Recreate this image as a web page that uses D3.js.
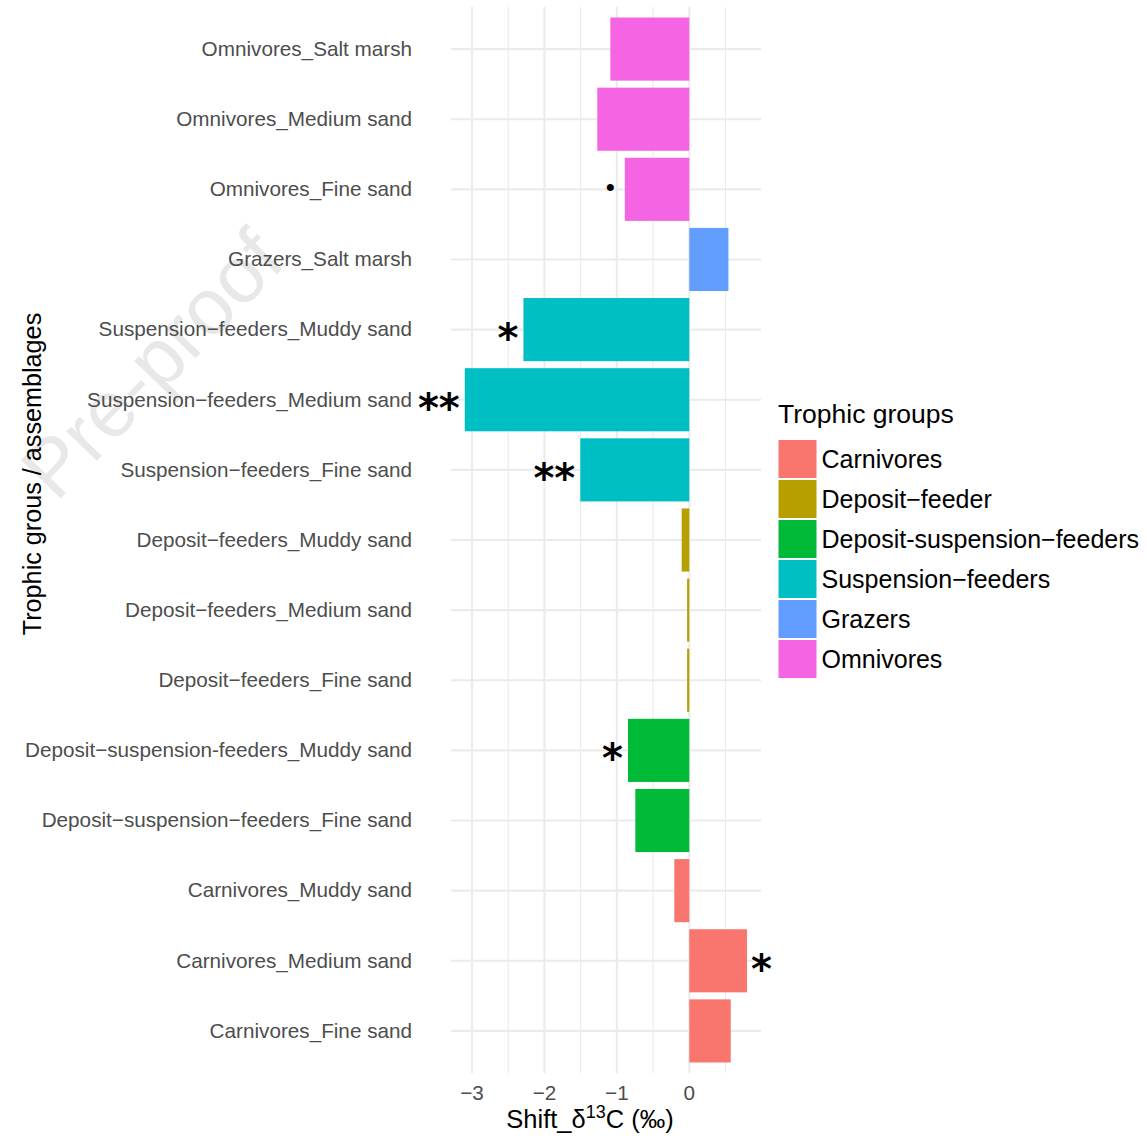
<!DOCTYPE html>
<html>
<head>
<meta charset="utf-8">
<script src="https://cdn.jsdelivr.net/npm/d3@7"></script>
<style>
  html, body { margin: 0; padding: 0; background: #fff; }
  svg { display: block; font-family: "Liberation Sans", Arial, sans-serif; }
</style>
</head>
<body>
<svg id="chart" width="1147" height="1140"></svg>
<script>
// ---- data ----
const categories = [
  "Omnivores_Salt marsh",
  "Omnivores_Medium sand",
  "Omnivores_Fine sand",
  "Grazers_Salt marsh",
  "Suspension\u2212feeders_Muddy sand",
  "Suspension\u2212feeders_Medium sand",
  "Suspension\u2212feeders_Fine sand",
  "Deposit\u2212feeders_Muddy sand",
  "Deposit\u2212feeders_Medium sand",
  "Deposit\u2212feeders_Fine sand",
  "Deposit\u2212suspension-feeders_Muddy sand",
  "Deposit\u2212suspension\u2212feeders_Fine sand",
  "Carnivores_Muddy sand",
  "Carnivores_Medium sand",
  "Carnivores_Fine sand"
];
const shiftValues = [-1.09, -1.27, -0.89, 0.54, -2.29, -3.10, -1.505, -0.105, -0.03, -0.03, -0.846, -0.745, -0.207, 0.797, 0.572];
const groupOfBar = ["Omnivores","Omnivores","Omnivores","Grazers","Suspension\u2212feeders","Suspension\u2212feeders","Suspension\u2212feeders","Deposit\u2212feeder","Deposit\u2212feeder","Deposit\u2212feeder","Deposit-suspension\u2212feeders","Deposit-suspension\u2212feeders","Carnivores","Carnivores","Carnivores"];
const significance = ["", "", "\u2022", "", "*", "**", "**", "", "", "", "*", "", "", "*", ""];
const legendGroups = ["Carnivores", "Deposit\u2212feeder", "Deposit-suspension\u2212feeders", "Suspension\u2212feeders", "Grazers", "Omnivores"];
const groupColors = ["#F8766D", "#B79F00", "#00BA38", "#00BFC4", "#619CFF", "#F564E3"];
const xMajorTicks = [-3, -2, -1, 0];
const xMinorTicks = [-2.5, -1.5, -0.5, 0.5];
const xTickLabels = ["\u22123", "\u22122", "\u22121", "0"];

// ---- layout ----
const svg = d3.select("#chart");
const panel = { left: 451, right: 761, top: 7, bottom: 1073 };
const x = d3.scaleLinear().domain([-3.29, 0.99]).range([panel.left, panel.right]);
const y = d3.scaleBand().domain(categories).range([panel.top, panel.bottom])
  .paddingInner(0.1).paddingOuter(0.15).align(0.5);
const color = d3.scaleOrdinal().domain(legendGroups).range(groupColors);
const rows = categories.map((c, i) => ({ cat: c, v: shiftValues[i], g: groupOfBar[i], s: significance[i] }));

// watermark
svg.append("text")
  .attr("transform", "translate(152,364) rotate(-46)")
  .attr("text-anchor", "middle")
  .attr("dominant-baseline", "central")
  .attr("font-size", 80)
  .attr("fill", "#e8e8e8")
  .text("Pre-proof");

// grid
const grid = svg.append("g");
grid.selectAll("line.minor").data(xMinorTicks).join("line")
  .attr("x1", d => x(d)).attr("x2", d => x(d))
  .attr("y1", panel.top).attr("y2", panel.bottom)
  .attr("stroke", "#ebebeb").attr("stroke-width", 1.1);
grid.selectAll("line.major").data(xMajorTicks).join("line")
  .attr("x1", d => x(d)).attr("x2", d => x(d))
  .attr("y1", panel.top).attr("y2", panel.bottom)
  .attr("stroke", "#ebebeb").attr("stroke-width", 2.1);
grid.selectAll("line.h").data(categories).join("line")
  .attr("x1", panel.left).attr("x2", panel.right)
  .attr("y1", d => y(d) + y.bandwidth() / 2).attr("y2", d => y(d) + y.bandwidth() / 2)
  .attr("stroke", "#ebebeb").attr("stroke-width", 2.1);

// bars
svg.append("g").selectAll("rect").data(rows).join("rect")
  .attr("x", d => x(Math.min(0, d.v)))
  .attr("width", d => Math.abs(x(d.v) - x(0)))
  .attr("y", d => y(d.cat))
  .attr("height", y.bandwidth())
  .attr("fill", d => color(d.g));

// significance markers
const sig = svg.append("g");
rows.filter(d => d.s).forEach(d => {
  const isDot = d.s === "\u2022";
  const t = sig.append("text")
    .attr("font-size", isDot ? 26 : 40)
    .attr("font-weight", isDot ? "normal" : "bold")
    .attr("fill", "#000")
    .attr("font-family", isDot ? "Liberation Sans, Arial" : "DejaVu Sans, sans-serif")
    .attr("text-anchor", d.v < 0 ? "end" : "start")
    .attr("x", d.v < 0 ? x(d.v) - (isDot ? 10 : 5) : x(d.v) + 4)
    .attr("y", 0)
    .text(d.s);
  const bb = t.node().getBBox();
  const cy = y(d.cat) + y.bandwidth() / 2 + 1.5;
  const glyphMid = isDot ? bb.y + bb.height * 0.62 : bb.y + bb.height * 0.36;
  t.attr("y", cy - glyphMid);
});

// y tick labels
svg.append("g").selectAll("text").data(categories).join("text")
  .attr("x", 412)
  .attr("y", d => y(d) + y.bandwidth() / 2)
  .attr("dy", "0.33em")
  .attr("text-anchor", "end")
  .attr("font-size", 20.7)
  .attr("fill", "#4d4d4d")
  .text(d => d);

// x tick labels
svg.append("g").selectAll("text").data(xMajorTicks).join("text")
  .attr("x", d => x(d))
  .attr("y", 1100)
  .attr("text-anchor", "middle")
  .attr("font-size", 20.7)
  .attr("fill", "#4d4d4d")
  .text((d, i) => xTickLabels[i]);

// axis titles
const xt = svg.append("text")
  .attr("x", 590).attr("y", 1128)
  .attr("text-anchor", "middle")
  .attr("font-size", 25.5)
  .attr("fill", "#000");
xt.append("tspan").text("Shift_\u03b4");
xt.append("tspan").attr("font-size", 18).attr("dy", -10).text("13");
xt.append("tspan").attr("dy", 10).text("C (\u2030)");

svg.append("text")
  .attr("transform", "translate(41,474) rotate(-90)")
  .attr("text-anchor", "middle")
  .attr("font-size", 25.2)
  .attr("fill", "#000")
  .text("Trophic grous / assemblages");

// legend
const lg = svg.append("g").attr("transform", "translate(778,0)");
lg.append("text").attr("x", 0).attr("y", 423)
  .attr("font-size", 26.5).attr("fill", "#000").text("Trophic groups");
const keyY = d3.scaleBand().domain(legendGroups).range([439, 679]).paddingInner(0);
const items = lg.selectAll("g.item").data(legendGroups).join("g");
items.append("rect")
  .attr("x", 0.5).attr("y", d => keyY(d) + 1)
  .attr("width", 38).attr("height", keyY.bandwidth() - 2)
  .attr("fill", d => color(d));
items.append("text")
  .attr("x", 43.5)
  .attr("y", d => keyY(d) + keyY.bandwidth() / 2)
  .attr("dy", "0.35em")
  .attr("font-size", 25)
  .attr("fill", "#000")
  .text(d => d);
</script>
</body>
</html>
